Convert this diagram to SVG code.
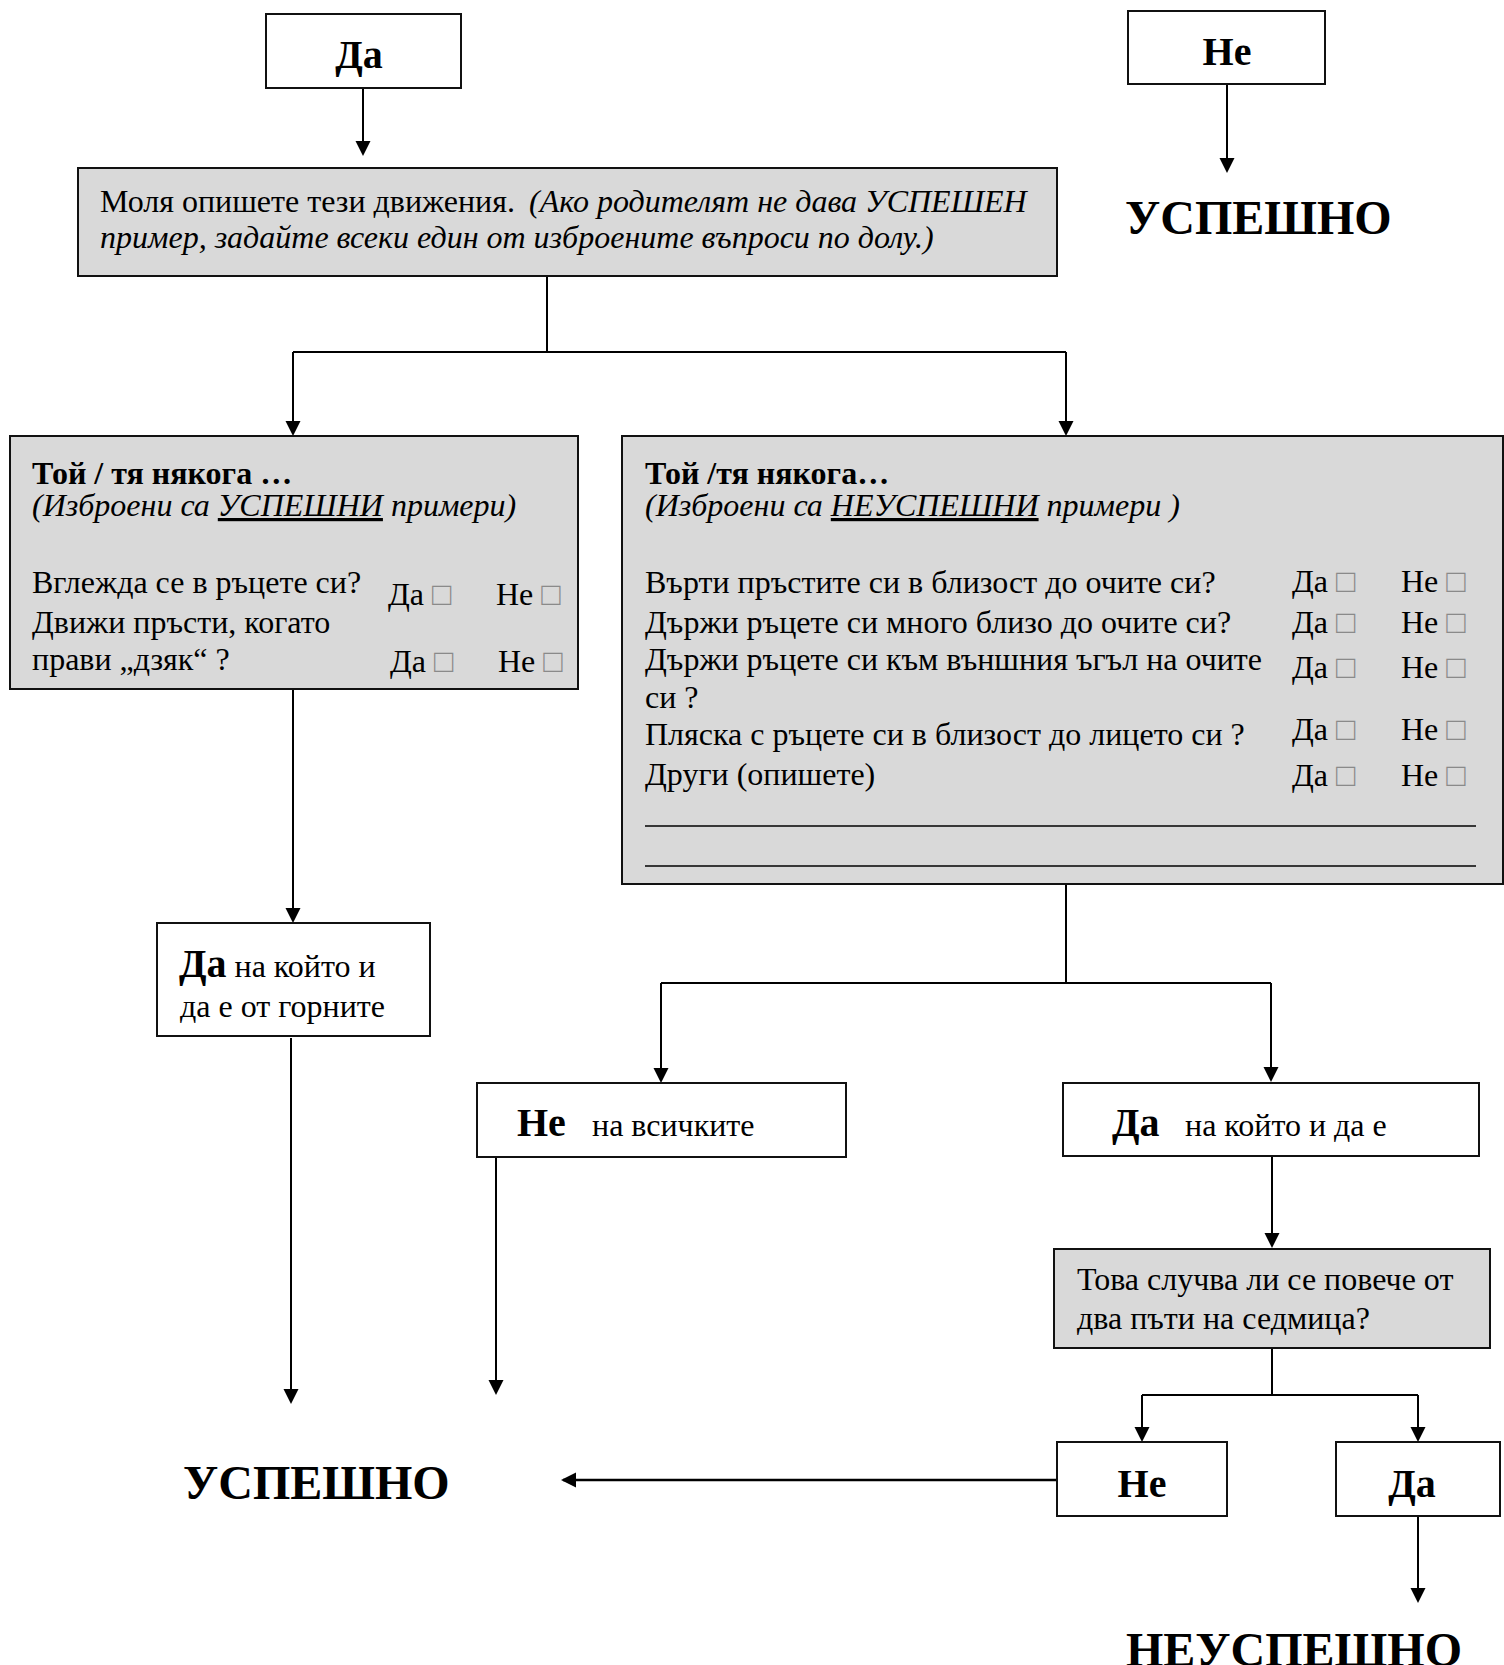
<svg xmlns="http://www.w3.org/2000/svg" width="1504" height="1665" viewBox="0 0 1504 1665">
  <style>
    .t { font-family: "Liberation Serif", "Times New Roman", serif; font-size: 32px; fill: #000; }
    .b { font-weight: bold; }
    .i { font-style: italic; }
    .u { text-decoration: underline; }
    .lg { font-size: 40px; font-weight: bold; }
    .xl { font-size: 48px; font-weight: bold; }
    .chk { font-family: "DejaVu Sans", sans-serif; font-size: 32px; font-weight: 200; fill: #8a8a8a; }
    .plain { fill: #fff; stroke: #111; stroke-width: 2; }
    .shade { fill: #d9d9d9; stroke: #111; stroke-width: 2; }
    .conn { fill: none; stroke: #000; stroke-width: 2; }
    .rule { stroke: #000; stroke-width: 1.5; }
  </style>
  <defs>
    <marker id="arrow" markerUnits="userSpaceOnUse" markerWidth="16" markerHeight="16" refX="13" refY="7.5" orient="auto">
      <path d="M0,0 L15,7.5 L0,15 z" fill="#000"/>
    </marker>
  </defs>

  <rect width="1504" height="1665" fill="#fff"/>

  <!-- connectors -->
  <g id="connectors" class="conn">
    <line x1="363" y1="88" x2="363" y2="154" marker-end="url(#arrow)"/>
    <line x1="1227" y1="84" x2="1227" y2="171" marker-end="url(#arrow)"/>
    <line x1="547" y1="267" x2="547" y2="352"/>
    <line x1="293" y1="352" x2="1066" y2="352"/>
    <line x1="293" y1="352" x2="293" y2="434" marker-end="url(#arrow)"/>
    <line x1="1066" y1="352" x2="1066" y2="434" marker-end="url(#arrow)"/>
    <line x1="293" y1="690" x2="293" y2="921" marker-end="url(#arrow)"/>
    <line x1="1066" y1="884" x2="1066" y2="983"/>
    <line x1="661" y1="983" x2="1271" y2="983"/>
    <line x1="661" y1="983" x2="661" y2="1081" marker-end="url(#arrow)"/>
    <line x1="1271" y1="983" x2="1271" y2="1080" marker-end="url(#arrow)"/>
    <line x1="291" y1="1038" x2="291" y2="1402" marker-end="url(#arrow)"/>
    <line x1="496" y1="1157" x2="496" y2="1393" marker-end="url(#arrow)"/>
    <line x1="1272" y1="1156" x2="1272" y2="1246" marker-end="url(#arrow)"/>
    <line x1="1272" y1="1348" x2="1272" y2="1395"/>
    <line x1="1142" y1="1395" x2="1418" y2="1395"/>
    <line x1="1142" y1="1395" x2="1142" y2="1440" marker-end="url(#arrow)"/>
    <line x1="1418" y1="1395" x2="1418" y2="1440" marker-end="url(#arrow)"/>
    <line x1="1057" y1="1480" x2="563" y2="1480" stroke-width="2.5" marker-end="url(#arrow)"/>
    <line x1="1418" y1="1516" x2="1418" y2="1601" marker-end="url(#arrow)"/>
  </g>

  <!-- top answer boxes -->
  <g id="yes-top">
    <rect class="plain" x="266" y="14" width="195" height="74"/>
    <text class="t lg" x="359" y="68" text-anchor="middle">Да</text>
  </g>
  <g id="no-top">
    <rect class="plain" x="1128" y="11" width="197" height="73"/>
    <text class="t lg" x="1227" y="65" text-anchor="middle">Не</text>
  </g>
  <g id="pass-top">
    <text class="t xl" x="1125" y="234">УСПЕШНО</text>
  </g>

  <!-- describe movements -->
  <g id="describe">
    <rect class="shade" x="78" y="168" width="979" height="108"/>
    <text class="t" x="100" y="212">Моля опишете тези движения. <tspan class="i" x="529">(Ако родителят не дава УСПЕШЕН</tspan></text>
    <text class="t i" x="100" y="248">пример, задайте всеки един от изброените въпроси по долу.)</text>
  </g>

  <!-- passing examples -->
  <g id="pass-examples">
    <rect class="shade" x="10" y="436" width="568" height="253"/>
    <text class="t b" x="32" y="484">Той / тя някога …</text>
    <text class="t i" x="32" y="516">(Изброени са <tspan class="u">УСПЕШНИ</tspan> примери)</text>
    <text class="t" x="32" y="593">Вглежда се в ръцете си?</text>
    <text class="t" x="32" y="633">Движи пръсти, когато</text>
    <text class="t" x="32" y="670">прави „дзяк“ ?</text>
    <text class="t" x="388" y="605">Да <tspan class="chk">□</tspan></text>
    <text class="t" x="496" y="605">Не <tspan class="chk">□</tspan></text>
    <text class="t" x="390" y="672">Да <tspan class="chk">□</tspan></text>
    <text class="t" x="498" y="672">Не <tspan class="chk">□</tspan></text>
  </g>

  <!-- failing examples -->
  <g id="fail-examples">
    <rect class="shade" x="622" y="436" width="881" height="448"/>
    <text class="t b" x="645" y="484">Той /тя някога…</text>
    <text class="t i" x="645" y="516">(Изброени са <tspan class="u">НЕУСПЕШНИ</tspan> примери )</text>
    <text class="t" x="645" y="593">Върти пръстите си в близост до очите си?</text>
    <text class="t" x="645" y="633">Държи ръцете си много близо до очите си?</text>
    <text class="t" x="645" y="670">Държи ръцете си към външния ъгъл на очите</text>
    <text class="t" x="645" y="708">си ?</text>
    <text class="t" x="645" y="745">Пляска с ръцете си в близост до лицето си ?</text>
    <text class="t" x="645" y="785">Други (опишете)</text>
    <text class="t" x="1292" y="592">Да <tspan class="chk">□</tspan></text>
    <text class="t" x="1401" y="592">Не <tspan class="chk">□</tspan></text>
    <text class="t" x="1292" y="633">Да <tspan class="chk">□</tspan></text>
    <text class="t" x="1401" y="633">Не <tspan class="chk">□</tspan></text>
    <text class="t" x="1292" y="678">Да <tspan class="chk">□</tspan></text>
    <text class="t" x="1401" y="678">Не <tspan class="chk">□</tspan></text>
    <text class="t" x="1292" y="740">Да <tspan class="chk">□</tspan></text>
    <text class="t" x="1401" y="740">Не <tspan class="chk">□</tspan></text>
    <text class="t" x="1292" y="786">Да <tspan class="chk">□</tspan></text>
    <text class="t" x="1401" y="786">Не <tspan class="chk">□</tspan></text>
    <line class="rule" x1="645" y1="826" x2="1476" y2="826"/>
    <line class="rule" x1="645" y1="866" x2="1476" y2="866"/>
  </g>

  <!-- answers below the example lists -->
  <g id="yes-any-above">
    <rect class="plain" x="157" y="923" width="273" height="113"/>
    <text class="t" x="179" y="977"><tspan class="lg">Да</tspan> на който и</text>
    <text class="t" x="180" y="1017">да е от горните</text>
  </g>
  <g id="no-all">
    <rect class="plain" x="477" y="1083" width="369" height="74"/>
    <text class="t" x="517" y="1136"><tspan class="lg">Не</tspan><tspan x="592">на всичките</tspan></text>
  </g>
  <g id="yes-any">
    <rect class="plain" x="1063" y="1083" width="416" height="73"/>
    <text class="t" x="1112" y="1136"><tspan class="lg">Да</tspan><tspan x="1185">на който и да е</tspan></text>
  </g>

  <!-- frequency question -->
  <g id="frequency">
    <rect class="shade" x="1054" y="1249" width="436" height="99"/>
    <text class="t" x="1077" y="1290">Това случва ли се повече от</text>
    <text class="t" x="1077" y="1329">два пъти на седмица?</text>
  </g>
  <g id="freq-no">
    <rect class="plain" x="1057" y="1442" width="170" height="74"/>
    <text class="t lg" x="1142" y="1497" text-anchor="middle">Не</text>
  </g>
  <g id="freq-yes">
    <rect class="plain" x="1336" y="1442" width="164" height="74"/>
    <text class="t lg" x="1412" y="1497" text-anchor="middle">Да</text>
  </g>

  <!-- outcomes -->
  <g id="pass-bottom">
    <text class="t xl" x="183" y="1499">УСПЕШНО</text>
  </g>
  <g id="fail-bottom">
    <text class="t xl" x="1126" y="1666">НЕУСПЕШНО</text>
  </g>
</svg>
